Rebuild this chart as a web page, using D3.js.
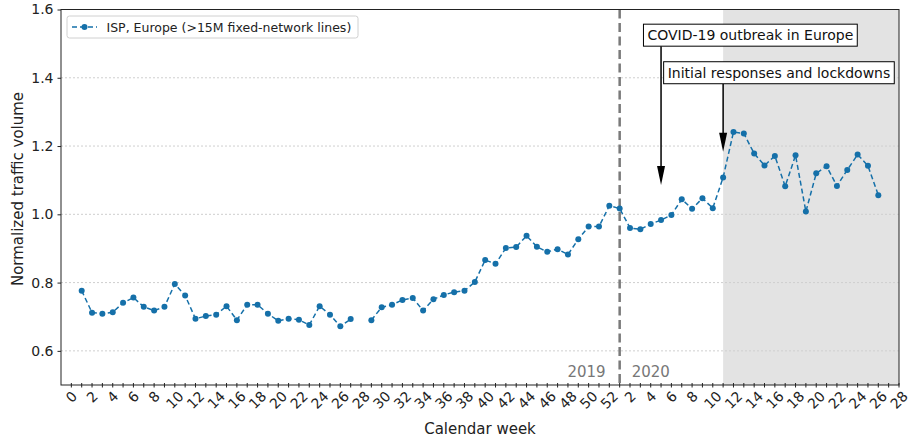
<!DOCTYPE html>
<html><head><meta charset="utf-8">
<script src="https://cdn.jsdelivr.net/npm/d3@7"></script>
<style>body{margin:0;background:#fff}svg{display:block;font-family:"DejaVu Sans",sans-serif}</style>
</head><body><svg id="c" width="912" height="437"></svg>
<script>
// ---- data ----
const weeks2019 = d3.range(1, 53);
const values2019 = [0.776,0.712,0.709,0.713,0.741,0.756,0.729,0.718,0.729,0.796,
  0.762,0.694,0.702,0.706,0.731,0.690,0.735,0.735,0.709,0.688,
  0.694,0.691,0.676,0.731,0.706,0.672,0.693,null,0.690,0.728,
  0.735,0.749,0.755,0.718,0.751,0.764,0.772,0.776,0.802,0.866,
  0.855,0.901,0.904,0.937,0.905,0.890,0.898,0.882,0.927,0.964,
  0.964,1.025];
const weeks2020 = d3.range(1, 27);
const values2020 = [1.017,0.960,0.956,0.972,0.983,0.998,1.044,1.016,1.047,1.018,
  1.108,1.241,1.237,1.178,1.143,1.171,1.082,1.173,1.008,1.120,
  1.141,1.083,1.130,1.175,1.142,1.056];
const tickIndex = d3.range(0, 81, 2);
const tickLabels = ["0","2","4","6","8","10","12","14","16","18","20","22","24","26","28","30",
  "32","34","36","38","40","42","44","46","48","50","52","2","4","6","8","10","12","14",
  "16","18","20","22","24","26","28"];
const yTicks = [0.6,0.8,1.0,1.2,1.4,1.6];
const seriesName = "ISP, Europe (>15M fixed-network lines)";
const yearLabels = ["2019","2020"];
const yearBreakIndex = 53;      // 2020 week 1
const lockdownStartIndex = 63;  // 2020 week 11
const annotations = [
  {text:"COVID-19 outbreak in Europe", at:57, tip:1.086, boxLeft:55.3, boxTop:1.557},
  {text:"Initial responses and lockdowns", at:63, tip:1.183, boxLeft:57.25, boxTop:1.447}
];

// combined series with position index
const points = weeks2019.map((w,i)=>({i:w, v:values2019[i]}))
  .concat(weeks2020.map((w,i)=>({i:52+w, v:values2020[i]})));

const svg = d3.select("#c");
const L=61, R=899, T=9.5, B=385;
const x = d3.scaleLinear().domain([-1,80]).range([L,R]);
const y = d3.scaleLinear().domain([0.5,1.6]).range([B,T]);
const blue = "#1570a9";

// shaded region
svg.append("rect").attr("x",x(lockdownStartIndex)).attr("y",T)
  .attr("width",x(80)-x(lockdownStartIndex)).attr("height",B-T).attr("fill","#e3e3e3");

// grid
svg.append("g").selectAll("line").data(yTicks).join("line")
  .attr("x1",L).attr("x2",R).attr("y1",d=>y(d)).attr("y2",d=>y(d))
  .attr("stroke","#cfcfcf").attr("stroke-width",1).attr("stroke-dasharray","2,2");

// year separator
svg.append("line").attr("x1",x(yearBreakIndex)).attr("x2",x(yearBreakIndex))
  .attr("y1",T).attr("y2",B).attr("stroke","#7a7a7a").attr("stroke-width",2.5)
  .attr("stroke-dasharray","9,4.5");
svg.append("text").attr("x",x(yearBreakIndex)-14).attr("y",376.5).attr("text-anchor","end")
  .attr("font-size",15).attr("fill","#777").text(yearLabels[0]);
svg.append("text").attr("x",x(yearBreakIndex)+12).attr("y",376.5).attr("text-anchor","start")
  .attr("font-size",15).attr("fill","#777").text(yearLabels[1]);

// series
const line = d3.line().defined(d=>d.v!=null).x(d=>x(d.i)).y(d=>y(d.v));
svg.append("path").datum(points).attr("d",line).attr("fill","none")
  .attr("stroke",blue).attr("stroke-width",1.5).attr("stroke-dasharray","5,3");
svg.append("g").selectAll("circle").data(points.filter(d=>d.v!=null)).join("circle")
  .attr("cx",d=>x(d.i)).attr("cy",d=>y(d.v)).attr("r",3).attr("fill",blue);

// spines
const sp = svg.append("g").attr("stroke","#222").attr("stroke-width",1).attr("fill","none");
sp.append("rect").attr("x",L).attr("y",T).attr("width",R-L).attr("height",B-T);

// y axis
const ya = svg.append("g").attr("transform",`translate(${L},0)`)
  .call(d3.axisLeft(y).tickValues(yTicks).tickFormat(d3.format(".1f")).tickSize(3.5).tickPadding(4));
ya.select(".domain").remove();
ya.selectAll("text").attr("font-size",14).attr("fill","#222").attr("font-family","DejaVu Sans");
ya.selectAll("line").attr("stroke","#222");

// x axis ticks
svg.append("g").selectAll("line").data(d3.range(0,81)).join("line")
  .attr("x1",d=>x(d)).attr("x2",d=>x(d)).attr("y1",B-2).attr("y2",B+2.5)
  .attr("stroke","#222");
const xl = svg.append("g");
tickIndex.forEach((ti,k)=>{
  const t = xl.append("text").attr("font-size",14).attr("fill","#222")
    .attr("text-anchor","middle").attr("dominant-baseline","central").text(tickLabels[k]);
  const w = t.node().getComputedTextLength();
  const h = 14*0.75;
  const bh = (w+h)/Math.SQRT2;
  t.attr("transform",`translate(${x(ti)},${B+5+bh/2}) rotate(-45)`);
});

// axis titles
svg.append("text").attr("x",(L+R)/2).attr("y",434).attr("text-anchor","middle")
  .attr("font-size",15).attr("fill","#222").text("Calendar week");
svg.append("text").attr("transform","translate(18,189) rotate(-90)").attr("text-anchor","middle")
  .attr("dominant-baseline","central").attr("font-size",15).attr("fill","#222").text("Normalized traffic volume");

// legend
const lg = svg.append("g");
lg.append("rect").attr("x",67).attr("y",16).attr("width",291).attr("height",22).attr("rx",2.5)
  .attr("fill","#fff").attr("stroke","#d0d0d0");
lg.append("line").attr("x1",72).attr("x2",97).attr("y1",27).attr("y2",27)
  .attr("stroke",blue).attr("stroke-width",1.5).attr("stroke-dasharray","5,3");
lg.append("circle").attr("cx",84.5).attr("cy",27).attr("r",3).attr("fill",blue);
lg.append("text").attr("x",106.5).attr("y",31.5).attr("font-size",12.5).attr("fill","#222").text(seriesName);

// annotations
annotations.forEach(a=>{
  const g = svg.append("g");
  const t = g.append("text").attr("font-size",14).attr("fill","#111").text(a.text);
  const w = t.node().getComputedTextLength();
  const bx = x(a.boxLeft), by = y(a.boxTop), bw = w+8, bh = 22;
  const ax = x(a.at), tipY = y(a.tip);
  g.insert("line","text").attr("x1",ax).attr("x2",ax).attr("y1",by+bh).attr("y2",tipY-16)
    .attr("stroke","#000").attr("stroke-width",1.5);
  g.insert("path","text").attr("d",`M${ax-4},${tipY-19} L${ax+4},${tipY-19} L${ax},${tipY} Z`).attr("fill","#000");
  g.insert("rect","text").attr("x",bx).attr("y",by).attr("width",bw).attr("height",bh)
    .attr("fill","#fff").attr("stroke","#000").attr("stroke-width",1);
  t.attr("x",bx+4).attr("y",by+16);
});
</script></body></html>
